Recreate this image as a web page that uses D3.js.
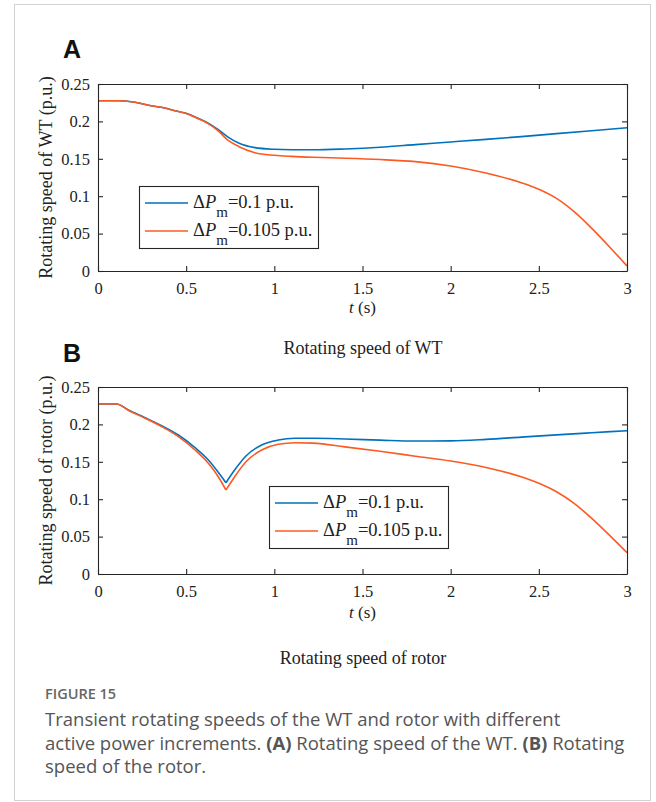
<!DOCTYPE html>
<html>
<head>
<meta charset="utf-8">
<script src="https://cdn.jsdelivr.net/npm/d3@7"></script>
<style>
  body { margin: 0; background: #fff; }
  svg { display: block; }
</style>
</head>
<body>
<div id="chart"></div>
<script>
// time points and values
var tA = [0, 0.12, 0.2, 0.3, 0.36, 0.45, 0.5, 0.55, 0.61, 0.68, 0.74, 0.8, 0.89, 1.0, 1.1, 1.22, 1.4, 1.6, 1.8, 2.0, 2.2, 2.4, 2.6, 2.8, 3.0];
var wtBlue = [0.2277, 0.2277, 0.226, 0.221, 0.2188, 0.2135, 0.2108, 0.2060, 0.1996, 0.1894, 0.1787, 0.1707, 0.1649, 0.1627, 0.1621, 0.1620, 0.1632, 0.1655, 0.1690, 0.1725, 0.1760, 0.1797, 0.1836, 0.1875, 0.1915];
var tA2 = [0, 0.12, 0.2, 0.3, 0.36, 0.45, 0.5, 0.55, 0.61, 0.68, 0.74, 0.8, 0.89, 1.0, 1.1, 1.22, 1.4, 1.6, 1.8, 2.0, 2.2, 2.4, 2.5, 2.6, 2.7, 2.8, 2.9, 3.0];
var wtRed = [0.2277, 0.2277, 0.226, 0.221, 0.2188, 0.2135, 0.2105, 0.2055, 0.1990, 0.1876, 0.1742, 0.1662, 0.1582, 0.1547, 0.1532, 0.1520, 0.1508, 0.1490, 0.1462, 0.1404, 0.1310, 0.1180, 0.1092, 0.0970, 0.0793, 0.0570, 0.0325, 0.0067];

var tB = [0, 0.106, 0.172, 0.267, 0.361, 0.456, 0.55, 0.626, 0.682, 0.7256, 0.782, 0.839, 0.928, 1.022, 1.117, 1.22, 1.4, 1.6, 1.8, 2.0, 2.2, 2.4, 2.6, 2.8, 3.0];
var rotorBlue = [0.2273, 0.2273, 0.2193, 0.2090, 0.1983, 0.1858, 0.1689, 0.1524, 0.1360, 0.1220, 0.1413, 0.1578, 0.1725, 0.1791, 0.1814, 0.1814, 0.1805, 0.1790, 0.1778, 0.1780, 0.1800, 0.1830, 0.1860, 0.1888, 0.1916];
var tB2 = [0, 0.106, 0.172, 0.267, 0.361, 0.456, 0.55, 0.626, 0.682, 0.7256, 0.782, 0.839, 0.928, 1.022, 1.117, 1.22, 1.4, 1.6, 1.8, 2.0, 2.2, 2.4, 2.5, 2.6, 2.7, 2.8, 2.9, 3.0];
var rotorRed = [0.2273, 0.2273, 0.2190, 0.2082, 0.1970, 0.1836, 0.1658, 0.1480, 0.1300, 0.1123, 0.1324, 0.1500, 0.1658, 0.1734, 0.1755, 0.1750, 0.1700, 0.1640, 0.1575, 0.1510, 0.1425, 0.1300, 0.1213, 0.1100, 0.0945, 0.0744, 0.0520, 0.0285];

var xTicks = [0, 0.5, 1, 1.5, 2, 2.5, 3];
var yTicks = [0, 0.05, 0.1, 0.15, 0.2, 0.25];
var seriesNames = ["0.1 p.u.", "0.105 p.u."];
var colors = ["#0072BD", "#FC5A22"];

var width = 656, height = 802;

var svg = d3.select("#chart").append("svg")
  .attr("width", width)
  .attr("height", height);

// frame around the whole figure
svg.append("rect")
  .attr("x", 14.5).attr("y", 4.5)
  .attr("width", 636).attr("height", 796)
  .attr("fill", "none")
  .attr("stroke", "#d2d2d2");

var serif = "'Liberation Serif', 'Times New Roman', serif";

var x = d3.scaleLinear().domain([0, 3]).range([98, 627]);

function panel(opt) {
  var y = d3.scaleLinear().domain([0, 0.25]).range([opt.bottom, opt.top]);
  var g = svg.append("g");

  // letter
  svg.append("text")
    .attr("x", 63).attr("y", opt.letterY)
    .attr("font-family", "'Liberation Sans', Arial, sans-serif")
    .attr("font-weight", "bold")
    .attr("font-size", 25)
    .attr("fill", "#111")
    .text(opt.letter);

  var line = d3.line()
    .x(function(d) { return x(d[0]); })
    .y(function(d) { return y(d[1]); })
    .curve(d3.curveMonotoneX);

  opt.series.forEach(function(s, i) {
    var pts = d3.zip(s.t, s.v);
    // split at the kink so it stays sharp
    var parts = [pts];
    if (opt.kink != null) {
      var k = s.t.indexOf(opt.kink);
      parts = [pts.slice(0, k + 1), pts.slice(k)];
    }
    parts.forEach(function(p) {
      g.append("path")
        .datum(p)
        .attr("fill", "none")
        .attr("stroke", colors[i])
        .attr("stroke-width", 1.6)
        .attr("stroke-linejoin", "round")
        .attr("d", line);
    });
  });

  // axes, ticks point inward on all four sides
  var fmt = function(d) { return String(d); };
  var ax = g.append("g").attr("transform", "translate(0," + opt.bottom + ")")
    .call(d3.axisBottom(x).tickValues(xTicks).tickFormat(fmt).tickSizeInner(-5).tickSizeOuter(0).tickPadding(11));
  var ay = g.append("g").attr("transform", "translate(" + x(0) + ",0)")
    .call(d3.axisLeft(y).tickValues(yTicks).tickFormat(fmt).tickSizeInner(-5).tickSizeOuter(0).tickPadding(8));
  var at = g.append("g").attr("transform", "translate(0," + opt.top + ")")
    .call(d3.axisTop(x).tickValues(xTicks).tickFormat("").tickSizeInner(-5).tickSizeOuter(0));
  var ar = g.append("g").attr("transform", "translate(" + x(3) + ",0)")
    .call(d3.axisRight(y).tickValues(yTicks).tickFormat("").tickSizeInner(-5).tickSizeOuter(0));

  [ax, ay, at, ar].forEach(function(a) {
    a.attr("font-family", serif).attr("font-size", 16.5);
    a.selectAll("path, line").attr("stroke", "#262626").attr("stroke-width", 1.1);
    a.selectAll("text").attr("fill", "#222");
  });

  // axis labels
  var xl = svg.append("text")
    .attr("x", (x(0) + x(3)) / 2).attr("y", opt.xlabelY)
    .attr("text-anchor", "middle")
    .attr("font-family", serif).attr("font-size", 17).attr("fill", "#222");
  xl.append("tspan").attr("font-style", "italic").text("t");
  xl.append("tspan").text(" (s)");

  svg.append("text")
    .attr("transform", "translate(52," + ((opt.top + opt.bottom) / 2) + ") rotate(-90)")
    .attr("text-anchor", "middle")
    .attr("font-family", serif).attr("font-size", 18).attr("fill", "#222")
    .text(opt.ylabel);

  svg.append("text")
    .attr("x", 363).attr("y", opt.titleY)
    .attr("text-anchor", "middle")
    .attr("font-family", serif).attr("font-size", 18).attr("fill", "#222")
    .text(opt.title);

  // legend
  var lg = svg.append("g").attr("transform", "translate(" + opt.legX + "," + opt.legY + ")");
  lg.append("rect")
    .attr("x", 0.5).attr("y", 0.5).attr("width", 179).attr("height", 62)
    .attr("fill", "#fff").attr("stroke", "#262626").attr("stroke-width", 1.1);
  seriesNames.forEach(function(name, i) {
    var ly = 17 + i * 28;
    lg.append("line")
      .attr("x1", 6).attr("x2", 49).attr("y1", ly).attr("y2", ly)
      .attr("stroke", colors[i]).attr("stroke-width", 1.6);
    var tx = lg.append("text")
      .attr("x", 54).attr("y", ly + 5)
      .attr("font-family", serif).attr("font-size", 18.5).attr("fill", "#222");
    tx.append("tspan").text("\u0394");
    tx.append("tspan").attr("font-style", "italic").text("P");
    tx.append("tspan").attr("dy", 9).attr("font-size", 15).text("m");
    tx.append("tspan").attr("dy", -9).text("=" + name);
  });
}

panel({
  letter: "A", letterY: 58,
  top: 84, bottom: 271,
  series: [{t: tA, v: wtBlue}, {t: tA2, v: wtRed}],
  ylabel: "Rotating speed of WT (p.u.)",
  xlabelY: 313,
  title: "Rotating speed of WT", titleY: 354,
  legX: 139, legY: 186
});

panel({
  letter: "B", letterY: 362,
  top: 387, bottom: 574,
  series: [{t: tB, v: rotorBlue}, {t: tB2, v: rotorRed}],
  kink: 0.7256,
  ylabel: "Rotating speed of rotor (p.u.)",
  xlabelY: 618,
  title: "Rotating speed of rotor", titleY: 664,
  legX: 269, legY: 486
});

// caption
var sans = "'Open Sans', 'Noto Sans', sans-serif";
svg.append("text")
  .attr("x", 45).attr("y", 699)
  .attr("font-family", sans).attr("font-size", 14.5).attr("font-weight", 600)
  .attr("fill", "#666")
  .text("FIGURE 15");

var capLines = [
  [["Transient rotating speeds of the WT and rotor with different", false]],
  [["active power increments. ", false], ["(A)", true], [" Rotating speed of the WT. ", false], ["(B)", true], [" Rotating", false]],
  [["speed of the rotor.", false]]
];
capLines.forEach(function(parts, i) {
  var t = svg.append("text")
    .attr("x", 45).attr("y", 726 + i * 23.5)
    .attr("font-family", sans).attr("font-size", 18.5)
    .attr("fill", "#555");
  parts.forEach(function(p) {
    t.append("tspan").attr("font-weight", p[1] ? 700 : 400).text(p[0]);
  });
});
</script>
</body>
</html>
